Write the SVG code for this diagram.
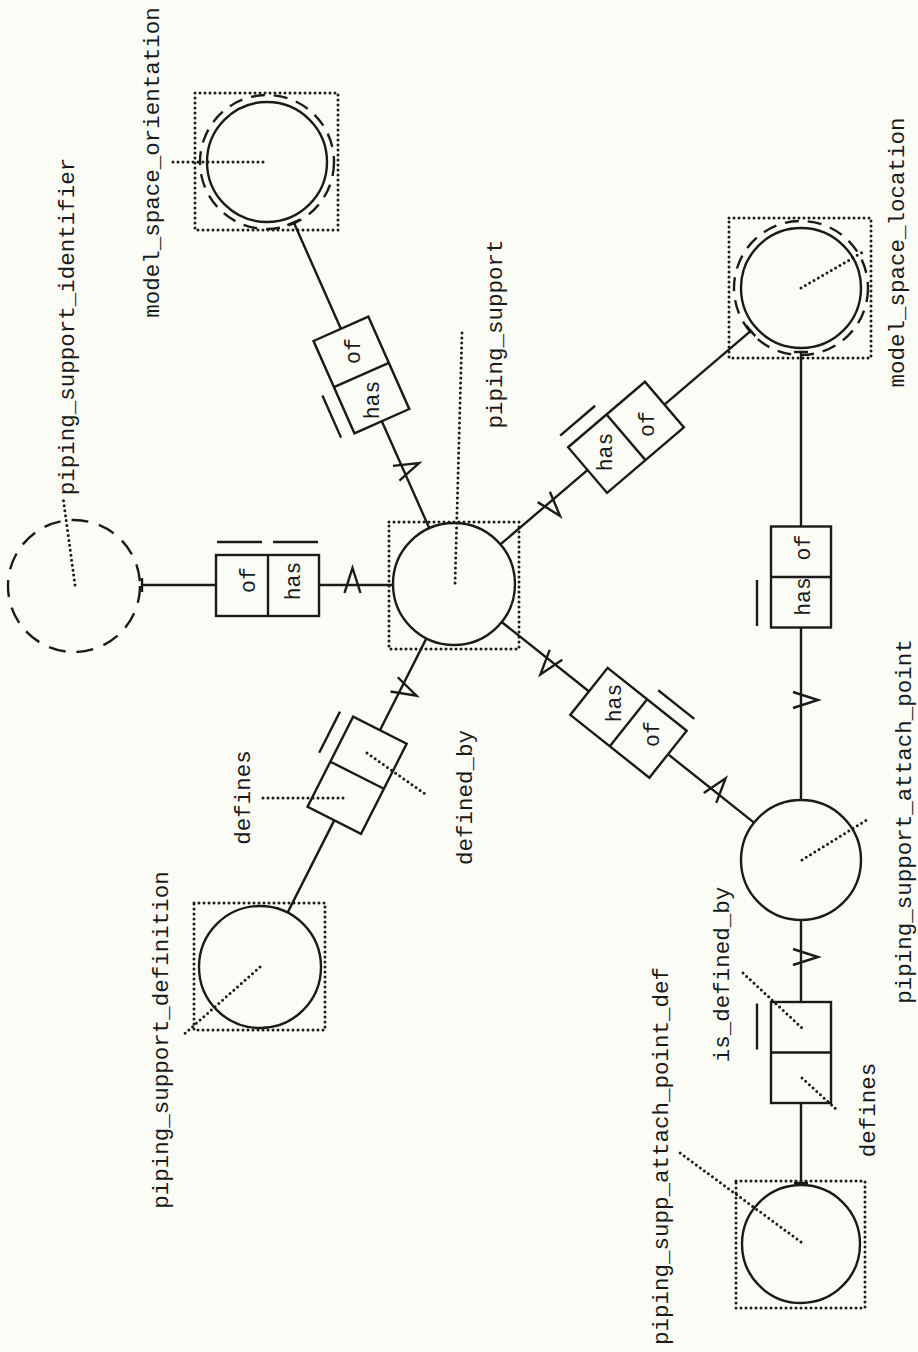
<svg xmlns="http://www.w3.org/2000/svg" width="918" height="1352" viewBox="0 0 918 1352">
<style>
.bg{fill:#fcfcf7}
.ent{fill:none;stroke:#1a1a1a;stroke-width:2.4}
.ring{fill:none;stroke:#1a1a1a;stroke-width:2.4;stroke-dasharray:14 9}
.dash{fill:none;stroke:#1a1a1a;stroke-width:2.4;stroke-dasharray:17 11}
.dot{fill:none;stroke:#1a1a1a;stroke-width:3;stroke-linecap:round;stroke-dasharray:0 5}
.ln{fill:none;stroke:#1a1a1a;stroke-width:2.4}
text{font-family:"Liberation Mono","DejaVu Sans Mono",monospace;font-size:22.5px;fill:#1a1a1a;text-anchor:middle}
.rt{font-size:21.5px}
</style>
<defs>
<path id="mk" d="M-8,8 L0,-17 L8,8" fill="none" stroke="#1a1a1a" stroke-width="2.4"/>
<g id="rbox"><rect x="-50.5" y="-30" width="101" height="60" class="ln"/><line x1="0" y1="-30" x2="0" y2="30" class="ln"/></g>
</defs>
<rect class="bg" x="0" y="0" width="918" height="1352"/>

<g id="connectors">
<path class="ln" d="M142,585 H216 M319,585 H393 M142,578 V592"/>
<path class="ln" d="M293.7,222.3 L341.1,329.3 M381.6,420.7 L429.3,528.2 M287.3,225.1 L300.1,219.5"/>
<path class="ln" d="M750.8,330.8 L664.1,404.8 M588,469.7 L500.4,544.4 M746.3,325.5 L755.3,336.1"/>
<path class="ln" d="M754,822.6 L667.6,753.9 M589.4,691.7 L501.7,622"/>
<path class="ln" d="M801,352 V526.5 M801,627.5 V800 M794,352 H808"/>
<path class="ln" d="M426.4,638.4 L379.7,730.7 M334.5,819.9 L287.6,912.6"/>
<path class="ln" d="M801,920 V1002 M801,1103 V1183 M794,1183 H808"/>
<use href="#mk" transform="translate(352.5,585) rotate(0)"/>
<use href="#mk" transform="translate(403.5,470) rotate(66.09)"/>
<use href="#mk" transform="translate(549,503) rotate(139.53)"/>
<use href="#mk" transform="translate(551,661.1) rotate(218.5)"/>
<use href="#mk" transform="translate(715,791.6) rotate(38.5)"/>
<use href="#mk" transform="translate(801,700) rotate(90)"/>
<use href="#mk" transform="translate(401.3,688) rotate(116.86)"/>
<use href="#mk" transform="translate(801,957) rotate(90)"/>
</g>

<g id="piping_support">
<rect class="dot" x="389" y="522" width="130" height="127"/>
<circle class="ent" cx="454" cy="584" r="61"/>
<line class="dot" x1="462" y1="333" x2="455" y2="584"/>
<text transform="translate(502,334) rotate(-90)">piping_support</text>
</g>

<g id="piping_support_identifier">
<circle class="dash" cx="74" cy="586" r="66"/>
<line class="dot" x1="75" y1="585" x2="63" y2="497"/>
<text transform="translate(73.5,326.5) rotate(-90)">piping_support_identifier</text>
</g>

<g id="model_space_orientation">
<rect class="dot" x="195" y="93" width="143" height="137"/>
<circle class="ent" cx="267" cy="162" r="60"/>
<circle class="ring" cx="267" cy="162" r="67"/>
<line class="dot" x1="173" y1="162" x2="267" y2="162"/>
<text transform="translate(158.5,162.5) rotate(-90)">model_space_orientation</text>
</g>

<g id="model_space_location">
<rect class="dot" x="729" y="218" width="142" height="140"/>
<circle class="ent" cx="801" cy="288" r="60"/>
<circle class="ring" cx="801" cy="288" r="67"/>
<line class="dot" x1="801" y1="288" x2="863" y2="252"/>
<text transform="translate(903.5,252.5) rotate(-90)">model_space_location</text>
</g>

<g id="piping_support_attach_point">
<circle class="ent" cx="801" cy="860" r="60"/>
<line class="dot" x1="802" y1="860" x2="870" y2="818"/>
<text transform="translate(911,821.5) rotate(-90)">piping_support_attach_point</text>
</g>

<g id="piping_support_definition">
<rect class="dot" x="194" y="903" width="131" height="127"/>
<circle class="ent" cx="260" cy="967" r="61"/>
<line class="dot" x1="260" y1="967" x2="182" y2="1036"/>
<text transform="translate(168,1040) rotate(-90)">piping_support_definition</text>
</g>

<g id="piping_supp_attach_point_def">
<rect class="dot" x="736" y="1181" width="129" height="127"/>
<circle class="ent" cx="801" cy="1244" r="59"/>
<line class="dot" x1="801" y1="1242" x2="680" y2="1153"/>
<text transform="translate(668,1156) rotate(-90)">piping_supp_attach_point_def</text>
</g>

<g id="rel_identifier">
<rect class="ln" x="216" y="555" width="103" height="61"/>
<line class="ln" x1="268" y1="555" x2="268" y2="616"/>
<path class="ln" d="M217,542 H262 M273,542 H318"/>
<text class="rt" transform="translate(255,580) rotate(-90)">of</text>
<text class="rt" transform="translate(300,581) rotate(-90)">has</text>
</g>

<g id="rel_orientation">
<g transform="translate(361.4,375) rotate(66.09)"><use href="#rbox"/><line class="ln" x1="3" y1="44" x2="49" y2="44"/></g>
<text class="rt" transform="translate(360,351) rotate(-90)">of</text>
<text class="rt" transform="translate(379,400) rotate(-90)">has</text>
</g>

<g id="rel_location">
<g transform="translate(626,437.3) rotate(139.53)"><use href="#rbox"/><line class="ln" x1="3" y1="44" x2="49" y2="44"/></g>
<text class="rt" transform="translate(654,424) rotate(-90)">of</text>
<text class="rt" transform="translate(612,452) rotate(-90)">has</text>
</g>

<g id="rel_attach_point">
<g transform="translate(628.5,722.8) rotate(218.5)"><use href="#rbox"/><line class="ln" x1="-49" y1="44" x2="-3" y2="44"/></g>
<text class="rt" transform="translate(621,703) rotate(-90)">has</text>
<text class="rt" transform="translate(659,734) rotate(-90)">of</text>
</g>

<g id="rel_location_attach">
<g transform="translate(801,577) rotate(90)"><use href="#rbox"/><line class="ln" x1="3" y1="44" x2="49" y2="44"/></g>
<text class="rt" transform="translate(810,547.5) rotate(-90)">of</text>
<text class="rt" transform="translate(810,596.5) rotate(-90)">has</text>
</g>

<g id="rel_definition">
<g transform="translate(357.1,775.25) rotate(116.86)"><use href="#rbox"/><line class="ln" x1="-49" y1="44" x2="-3" y2="44"/></g>
<line class="dot" x1="263" y1="798" x2="344" y2="798"/>
<line class="dot" x1="367" y1="753" x2="428" y2="796"/>
<text transform="translate(250,797.5) rotate(-90)">defines</text>
<text transform="translate(472,797.5) rotate(-90)">defined_by</text>
</g>

<g id="rel_attach_def">
<g transform="translate(801,1052.5) rotate(90)"><use href="#rbox"/><line class="ln" x1="-49" y1="44" x2="-3" y2="44"/></g>
<line class="dot" x1="743" y1="973" x2="802" y2="1028"/>
<line class="dot" x1="802" y1="1078" x2="837" y2="1110"/>
<text transform="translate(729,974.5) rotate(-90)">is_defined_by</text>
<text transform="translate(875,1110) rotate(-90)">defines</text>
</g>
</svg>
